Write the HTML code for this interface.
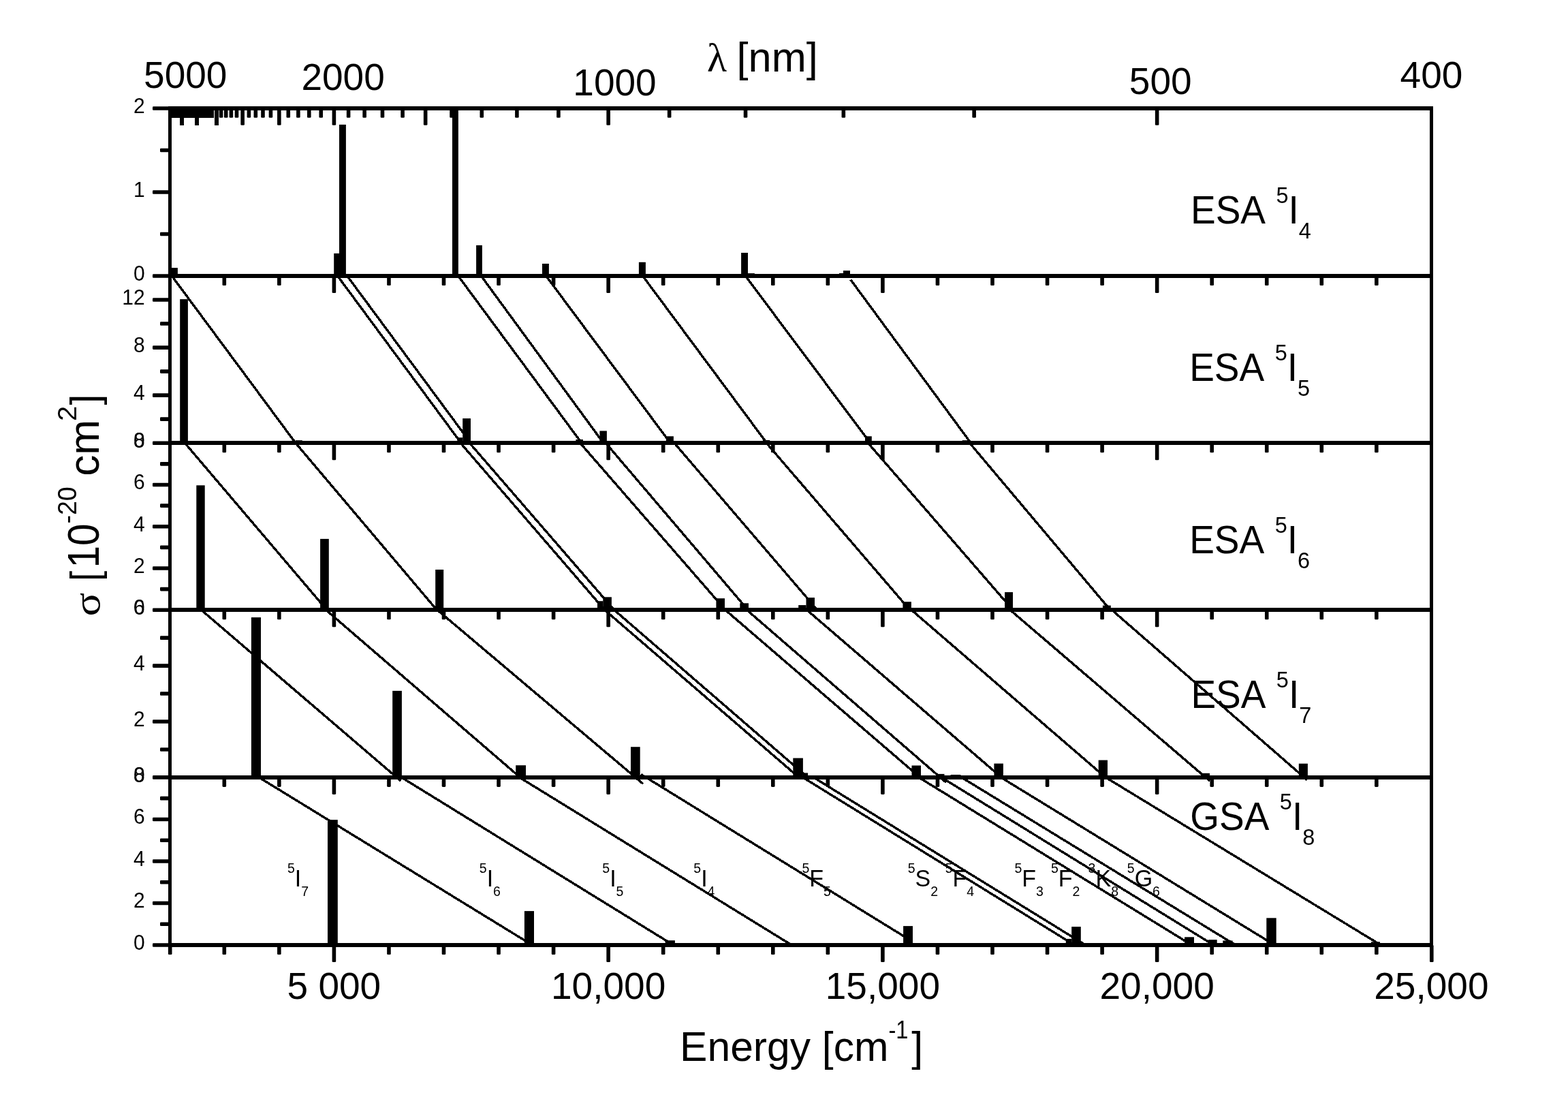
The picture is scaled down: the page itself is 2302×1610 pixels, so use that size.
<!DOCTYPE html>
<html lang="en"><head><meta charset="utf-8"><title>Absorption cross sections</title>
<style>html,body{margin:0;padding:0;background:#fff;}svg{display:block;}text{font-family:"Liberation Sans",sans-serif;fill:#000;}.sym{font-family:"Liberation Serif","DejaVu Serif",serif;}</style></head><body>
<svg width="2302" height="1610" viewBox="0 0 2302 1610">
<rect x="0" y="0" width="2302" height="1610" fill="#fff"/>
<g stroke="#000" stroke-width="3.4" fill="none" stroke-linecap="butt" shape-rendering="crispEdges">
<line x1="252.3" y1="405" x2="434" y2="650.2"/>
<line x1="495.6" y1="405" x2="676.9" y2="650.2"/>
<line x1="509.7" y1="405" x2="691.1" y2="650.2"/>
<line x1="672.7" y1="405" x2="853.9" y2="650.2"/>
<line x1="706.4" y1="405" x2="885.9" y2="650.2"/>
<line x1="801.7" y1="405" x2="984.2" y2="650.2"/>
<line x1="943.6" y1="405" x2="1125.7" y2="650.2"/>
<line x1="1094.4" y1="405" x2="1277.7" y2="650.2"/>
<line x1="1248.8" y1="410.5" x2="1425.3" y2="650.2"/>
<line x1="271.4" y1="650.2" x2="479.8" y2="895.2"/>
<line x1="434" y1="650.2" x2="641.3" y2="895.2"/>
<line x1="676.1" y1="650.2" x2="887.7" y2="895.2"/>
<line x1="689.4" y1="650.2" x2="901.7" y2="895.2"/>
<line x1="851.7" y1="650.2" x2="1065" y2="895.2"/>
<line x1="889.3" y1="650.2" x2="1098" y2="895.2"/>
<line x1="990" y1="650.2" x2="1200" y2="895.2"/>
<line x1="1125.2" y1="650.2" x2="1335.7" y2="895.2"/>
<line x1="1274.4" y1="650.2" x2="1487" y2="895.2"/>
<line x1="1423.6" y1="650.2" x2="1630" y2="895.2"/>
<line x1="295.5" y1="895.2" x2="588.3" y2="1146"/>
<line x1="478.5" y1="895.2" x2="763.6" y2="1140.9"/>
<line x1="642" y1="895.2" x2="944" y2="1150.3"/>
<line x1="887.7" y1="895.2" x2="1172.8" y2="1140.9"/>
<line x1="901.7" y1="895.2" x2="1185.9" y2="1140.9"/>
<line x1="1064.8" y1="895.2" x2="1350.6" y2="1140.9"/>
<line x1="1096.4" y1="895.2" x2="1389.2" y2="1148.5"/>
<line x1="1184.6" y1="895.2" x2="1470.1" y2="1140.9"/>
<line x1="1338.1" y1="895.2" x2="1623" y2="1140.9"/>
<line x1="1483" y1="895.2" x2="1776" y2="1146.1"/>
<line x1="1632.3" y1="895.2" x2="1919" y2="1144.7"/>
<line x1="380.2" y1="1140.9" x2="781.4" y2="1387"/>
<line x1="589.4" y1="1140.9" x2="988.6" y2="1387"/>
<line x1="762.6" y1="1140.9" x2="1165" y2="1388.7"/>
<line x1="941" y1="1136.4" x2="1336" y2="1379.6"/>
<line x1="1178.6" y1="1140.9" x2="1577.5" y2="1387"/>
<line x1="1194.3" y1="1140.9" x2="1597" y2="1389"/>
<line x1="1348.8" y1="1140.9" x2="1749.7" y2="1387"/>
<line x1="1382.1" y1="1140.9" x2="1781.8" y2="1387"/>
<line x1="1411.6" y1="1140.9" x2="1814" y2="1387"/>
<line x1="1469.4" y1="1140.9" x2="1871.3" y2="1387"/>
<line x1="1623.2" y1="1140.9" x2="2027.2" y2="1387"/>
</g>
<g fill="#000">
<rect x="251.1" y="393.1" width="9.8" height="11.9"/>
<rect x="490.2" y="371.9" width="8.8" height="33.1"/>
<rect x="498" y="182.9" width="9.9" height="222.1"/>
<rect x="664" y="159" width="8.9" height="246"/>
<rect x="699.1" y="360" width="8.8" height="45"/>
<rect x="796" y="387" width="9.9" height="18"/>
<rect x="937.9" y="384.8" width="10" height="20.2"/>
<rect x="1088.1" y="371" width="9.9" height="34"/>
<rect x="1098" y="401.1" width="9.9" height="3.9"/>
<rect x="1232" y="401" width="6" height="4"/>
<rect x="1238" y="397.2" width="10" height="7.8"/>
<rect x="264.2" y="439.1" width="11.7" height="211.1"/>
<rect x="433.6" y="646.2" width="10.2" height="4"/>
<rect x="671.4" y="642.2" width="7.8" height="8"/>
<rect x="679.2" y="614.1" width="11.8" height="36.1"/>
<rect x="845.4" y="645" width="10.6" height="5.2"/>
<rect x="880.4" y="632.4" width="10.5" height="17.8"/>
<rect x="977.9" y="640.3" width="11" height="9.9"/>
<rect x="1119.8" y="646" width="10.4" height="4.2"/>
<rect x="1270" y="640.3" width="9.8" height="9.9"/>
<rect x="1412.7" y="646.2" width="10.9" height="4"/>
<rect x="288.3" y="712.3" width="12.4" height="182.9"/>
<rect x="470.1" y="790.9" width="12.7" height="104.3"/>
<rect x="639.2" y="836" width="12" height="59.2"/>
<rect x="877" y="882.2" width="8.5" height="13"/>
<rect x="885.3" y="876.3" width="12.6" height="18.9"/>
<rect x="1051.4" y="878.2" width="12.6" height="17"/>
<rect x="1086.3" y="885.3" width="12.7" height="9.9"/>
<rect x="1172.2" y="888.1" width="11.3" height="7.1"/>
<rect x="1183.5" y="877.1" width="12.5" height="18.1"/>
<rect x="1196" y="891.1" width="2" height="4.1"/>
<rect x="1325.4" y="883.2" width="12.5" height="12"/>
<rect x="1475.1" y="869.1" width="11.9" height="26.1"/>
<rect x="1618.9" y="888.6" width="11.9" height="6.6"/>
<rect x="368.9" y="906.1" width="14.1" height="234.8"/>
<rect x="576.2" y="1013.9" width="13.7" height="127"/>
<rect x="757.2" y="1123.2" width="14.8" height="17.7"/>
<rect x="926" y="1096.2" width="13.7" height="44.7"/>
<rect x="1164.3" y="1112.6" width="14.6" height="28.3"/>
<rect x="1178.9" y="1134.4" width="7.2" height="6.5"/>
<rect x="1338.5" y="1123.5" width="13.5" height="17.4"/>
<rect x="1374.5" y="1135.9" width="12" height="5"/>
<rect x="1395.6" y="1137" width="14.8" height="3.9"/>
<rect x="1459.4" y="1120.6" width="13.5" height="20.3"/>
<rect x="1612.7" y="1115.6" width="13.3" height="25.3"/>
<rect x="1763.3" y="1134.8" width="12.7" height="6.1"/>
<rect x="1906.8" y="1120.7" width="13.1" height="20.2"/>
<rect x="481" y="1203.2" width="14.8" height="183.8"/>
<rect x="769.9" y="1337.1" width="14.1" height="49.9"/>
<rect x="976.7" y="1380.2" width="14.2" height="6.8"/>
<rect x="1326.1" y="1359.1" width="13.9" height="27.9"/>
<rect x="1564.8" y="1377.9" width="8.4" height="9.1"/>
<rect x="1573.2" y="1360.1" width="13.6" height="26.9"/>
<rect x="1739.1" y="1375.3" width="13.9" height="11.7"/>
<rect x="1773.8" y="1379.2" width="12.9" height="7.8"/>
<rect x="1795.3" y="1380.5" width="14.3" height="6.5"/>
<rect x="1859.3" y="1347.3" width="14.4" height="39.7"/>
<rect x="2013" y="1382.3" width="13" height="4.7"/>
</g>
<g fill="#000">
<rect x="326.5" y="405" width="5.6" height="14" rx="1.3"/>
<rect x="407.05" y="405" width="5.6" height="14" rx="1.3"/>
<rect x="487.6" y="405" width="5.6" height="25" rx="1.3"/>
<rect x="568.15" y="405" width="5.6" height="14" rx="1.3"/>
<rect x="648.7" y="405" width="5.6" height="14" rx="1.3"/>
<rect x="729.25" y="405" width="5.6" height="14" rx="1.3"/>
<rect x="809.8" y="405" width="5.6" height="14" rx="1.3"/>
<rect x="890.35" y="405" width="5.6" height="25" rx="1.3"/>
<rect x="970.9" y="405" width="5.6" height="14" rx="1.3"/>
<rect x="1051.45" y="405" width="5.6" height="14" rx="1.3"/>
<rect x="1132" y="405" width="5.6" height="14" rx="1.3"/>
<rect x="1212.55" y="405" width="5.6" height="14" rx="1.3"/>
<rect x="1293.1" y="405" width="5.6" height="25" rx="1.3"/>
<rect x="1373.65" y="405" width="5.6" height="14" rx="1.3"/>
<rect x="1454.2" y="405" width="5.6" height="14" rx="1.3"/>
<rect x="1534.75" y="405" width="5.6" height="14" rx="1.3"/>
<rect x="1615.3" y="405" width="5.6" height="14" rx="1.3"/>
<rect x="1695.85" y="405" width="5.6" height="25" rx="1.3"/>
<rect x="1776.4" y="405" width="5.6" height="14" rx="1.3"/>
<rect x="1856.95" y="405" width="5.6" height="14" rx="1.3"/>
<rect x="1937.5" y="405" width="5.6" height="14" rx="1.3"/>
<rect x="2018.05" y="405" width="5.6" height="14" rx="1.3"/>
<rect x="326.5" y="650.2" width="5.6" height="14" rx="1.3"/>
<rect x="407.05" y="650.2" width="5.6" height="14" rx="1.3"/>
<rect x="487.6" y="650.2" width="5.6" height="25" rx="1.3"/>
<rect x="568.15" y="650.2" width="5.6" height="14" rx="1.3"/>
<rect x="648.7" y="650.2" width="5.6" height="14" rx="1.3"/>
<rect x="729.25" y="650.2" width="5.6" height="14" rx="1.3"/>
<rect x="809.8" y="650.2" width="5.6" height="14" rx="1.3"/>
<rect x="890.35" y="650.2" width="5.6" height="25" rx="1.3"/>
<rect x="970.9" y="650.2" width="5.6" height="14" rx="1.3"/>
<rect x="1051.45" y="650.2" width="5.6" height="14" rx="1.3"/>
<rect x="1132" y="650.2" width="5.6" height="14" rx="1.3"/>
<rect x="1212.55" y="650.2" width="5.6" height="14" rx="1.3"/>
<rect x="1293.1" y="650.2" width="5.6" height="25" rx="1.3"/>
<rect x="1373.65" y="650.2" width="5.6" height="14" rx="1.3"/>
<rect x="1454.2" y="650.2" width="5.6" height="14" rx="1.3"/>
<rect x="1534.75" y="650.2" width="5.6" height="14" rx="1.3"/>
<rect x="1615.3" y="650.2" width="5.6" height="14" rx="1.3"/>
<rect x="1695.85" y="650.2" width="5.6" height="25" rx="1.3"/>
<rect x="1776.4" y="650.2" width="5.6" height="14" rx="1.3"/>
<rect x="1856.95" y="650.2" width="5.6" height="14" rx="1.3"/>
<rect x="1937.5" y="650.2" width="5.6" height="14" rx="1.3"/>
<rect x="2018.05" y="650.2" width="5.6" height="14" rx="1.3"/>
<rect x="326.5" y="895.2" width="5.6" height="14" rx="1.3"/>
<rect x="407.05" y="895.2" width="5.6" height="14" rx="1.3"/>
<rect x="487.6" y="895.2" width="5.6" height="25" rx="1.3"/>
<rect x="568.15" y="895.2" width="5.6" height="14" rx="1.3"/>
<rect x="648.7" y="895.2" width="5.6" height="14" rx="1.3"/>
<rect x="729.25" y="895.2" width="5.6" height="14" rx="1.3"/>
<rect x="809.8" y="895.2" width="5.6" height="14" rx="1.3"/>
<rect x="890.35" y="895.2" width="5.6" height="25" rx="1.3"/>
<rect x="970.9" y="895.2" width="5.6" height="14" rx="1.3"/>
<rect x="1051.45" y="895.2" width="5.6" height="14" rx="1.3"/>
<rect x="1132" y="895.2" width="5.6" height="14" rx="1.3"/>
<rect x="1212.55" y="895.2" width="5.6" height="14" rx="1.3"/>
<rect x="1293.1" y="895.2" width="5.6" height="25" rx="1.3"/>
<rect x="1373.65" y="895.2" width="5.6" height="14" rx="1.3"/>
<rect x="1454.2" y="895.2" width="5.6" height="14" rx="1.3"/>
<rect x="1534.75" y="895.2" width="5.6" height="14" rx="1.3"/>
<rect x="1615.3" y="895.2" width="5.6" height="14" rx="1.3"/>
<rect x="1695.85" y="895.2" width="5.6" height="25" rx="1.3"/>
<rect x="1776.4" y="895.2" width="5.6" height="14" rx="1.3"/>
<rect x="1856.95" y="895.2" width="5.6" height="14" rx="1.3"/>
<rect x="1937.5" y="895.2" width="5.6" height="14" rx="1.3"/>
<rect x="2018.05" y="895.2" width="5.6" height="14" rx="1.3"/>
<rect x="326.5" y="1140.9" width="5.6" height="14" rx="1.3"/>
<rect x="407.05" y="1140.9" width="5.6" height="14" rx="1.3"/>
<rect x="487.6" y="1140.9" width="5.6" height="25" rx="1.3"/>
<rect x="568.15" y="1140.9" width="5.6" height="14" rx="1.3"/>
<rect x="648.7" y="1140.9" width="5.6" height="14" rx="1.3"/>
<rect x="729.25" y="1140.9" width="5.6" height="14" rx="1.3"/>
<rect x="809.8" y="1140.9" width="5.6" height="14" rx="1.3"/>
<rect x="890.35" y="1140.9" width="5.6" height="25" rx="1.3"/>
<rect x="970.9" y="1140.9" width="5.6" height="14" rx="1.3"/>
<rect x="1051.45" y="1140.9" width="5.6" height="14" rx="1.3"/>
<rect x="1132" y="1140.9" width="5.6" height="14" rx="1.3"/>
<rect x="1212.55" y="1140.9" width="5.6" height="14" rx="1.3"/>
<rect x="1293.1" y="1140.9" width="5.6" height="25" rx="1.3"/>
<rect x="1373.65" y="1140.9" width="5.6" height="14" rx="1.3"/>
<rect x="1454.2" y="1140.9" width="5.6" height="14" rx="1.3"/>
<rect x="1534.75" y="1140.9" width="5.6" height="14" rx="1.3"/>
<rect x="1615.3" y="1140.9" width="5.6" height="14" rx="1.3"/>
<rect x="1695.85" y="1140.9" width="5.6" height="25" rx="1.3"/>
<rect x="1776.4" y="1140.9" width="5.6" height="14" rx="1.3"/>
<rect x="1856.95" y="1140.9" width="5.6" height="14" rx="1.3"/>
<rect x="1937.5" y="1140.9" width="5.6" height="14" rx="1.3"/>
<rect x="2018.05" y="1140.9" width="5.6" height="14" rx="1.3"/>
<rect x="246.9" y="1387" width="5.6" height="14" rx="1.3"/>
<rect x="326.5" y="1387" width="5.6" height="14" rx="1.3"/>
<rect x="407.05" y="1387" width="5.6" height="14" rx="1.3"/>
<rect x="487.6" y="1387" width="5.6" height="25" rx="1.3"/>
<rect x="568.15" y="1387" width="5.6" height="14" rx="1.3"/>
<rect x="648.7" y="1387" width="5.6" height="14" rx="1.3"/>
<rect x="729.25" y="1387" width="5.6" height="14" rx="1.3"/>
<rect x="809.8" y="1387" width="5.6" height="14" rx="1.3"/>
<rect x="890.35" y="1387" width="5.6" height="25" rx="1.3"/>
<rect x="970.9" y="1387" width="5.6" height="14" rx="1.3"/>
<rect x="1051.45" y="1387" width="5.6" height="14" rx="1.3"/>
<rect x="1132" y="1387" width="5.6" height="14" rx="1.3"/>
<rect x="1212.55" y="1387" width="5.6" height="14" rx="1.3"/>
<rect x="1293.1" y="1387" width="5.6" height="25" rx="1.3"/>
<rect x="1373.65" y="1387" width="5.6" height="14" rx="1.3"/>
<rect x="1454.2" y="1387" width="5.6" height="14" rx="1.3"/>
<rect x="1534.75" y="1387" width="5.6" height="14" rx="1.3"/>
<rect x="1615.3" y="1387" width="5.6" height="14" rx="1.3"/>
<rect x="1695.85" y="1387" width="5.6" height="25" rx="1.3"/>
<rect x="1776.4" y="1387" width="5.6" height="14" rx="1.3"/>
<rect x="1856.95" y="1387" width="5.6" height="14" rx="1.3"/>
<rect x="1937.5" y="1387" width="5.6" height="14" rx="1.3"/>
<rect x="2018.05" y="1387" width="5.6" height="14" rx="1.3"/>
<rect x="2099" y="1387" width="5.6" height="25" rx="1.3"/>
<rect x="249" y="159" width="6" height="13.7" shape-rendering="crispEdges"/>
<rect x="252" y="159" width="6" height="13.7" shape-rendering="crispEdges"/>
<rect x="256" y="159" width="6" height="13.7" shape-rendering="crispEdges"/>
<rect x="260" y="159" width="6" height="13.7" shape-rendering="crispEdges"/>
<rect x="264" y="159" width="6" height="24.8" shape-rendering="crispEdges"/>
<rect x="268" y="159" width="6" height="13.7" shape-rendering="crispEdges"/>
<rect x="272" y="159" width="6" height="13.7" shape-rendering="crispEdges"/>
<rect x="276" y="159" width="6" height="13.7" shape-rendering="crispEdges"/>
<rect x="281" y="159" width="6" height="13.7" shape-rendering="crispEdges"/>
<rect x="286" y="159" width="6" height="24.8" shape-rendering="crispEdges"/>
<rect x="291" y="159" width="6" height="13.7" shape-rendering="crispEdges"/>
<rect x="297" y="159" width="6" height="13.7" shape-rendering="crispEdges"/>
<rect x="302" y="159" width="6" height="13.7" shape-rendering="crispEdges"/>
<rect x="308" y="159" width="6" height="13.7" shape-rendering="crispEdges"/>
<rect x="315" y="159" width="6" height="24.8" shape-rendering="crispEdges"/>
<rect x="321.76" y="159" width="5.6" height="13.7" rx="1.3"/>
<rect x="328.94" y="159" width="5.6" height="13.7" rx="1.3"/>
<rect x="336.57" y="159" width="5.6" height="13.7" rx="1.3"/>
<rect x="344.69" y="159" width="5.6" height="13.7" rx="1.3"/>
<rect x="353.35" y="159" width="5.6" height="24.8" rx="1.3"/>
<rect x="362.61" y="159" width="5.6" height="13.7" rx="1.3"/>
<rect x="372.53" y="159" width="5.6" height="13.7" rx="1.3"/>
<rect x="383.18" y="159" width="5.6" height="13.7" rx="1.3"/>
<rect x="394.66" y="159" width="5.6" height="13.7" rx="1.3"/>
<rect x="407.05" y="159" width="5.6" height="24.8" rx="1.3"/>
<rect x="420.47" y="159" width="5.6" height="13.7" rx="1.3"/>
<rect x="435.07" y="159" width="5.6" height="13.7" rx="1.3"/>
<rect x="450.99" y="159" width="5.6" height="13.7" rx="1.3"/>
<rect x="468.42" y="159" width="5.6" height="13.7" rx="1.3"/>
<rect x="487.6" y="159" width="5.6" height="24.8" rx="1.3"/>
<rect x="508.8" y="159" width="5.6" height="13.7" rx="1.3"/>
<rect x="532.35" y="159" width="5.6" height="13.7" rx="1.3"/>
<rect x="558.67" y="159" width="5.6" height="13.7" rx="1.3"/>
<rect x="588.29" y="159" width="5.6" height="13.7" rx="1.3"/>
<rect x="621.85" y="159" width="5.6" height="24.8" rx="1.3"/>
<rect x="660.21" y="159" width="5.6" height="13.7" rx="1.3"/>
<rect x="704.47" y="159" width="5.6" height="13.7" rx="1.3"/>
<rect x="756.1" y="159" width="5.6" height="13.7" rx="1.3"/>
<rect x="817.12" y="159" width="5.6" height="13.7" rx="1.3"/>
<rect x="890.35" y="159" width="5.6" height="24.8" rx="1.3"/>
<rect x="979.85" y="159" width="5.6" height="13.7" rx="1.3"/>
<rect x="1091.73" y="159" width="5.6" height="13.7" rx="1.3"/>
<rect x="1235.56" y="159" width="5.6" height="13.7" rx="1.3"/>
<rect x="1427.35" y="159" width="5.6" height="13.7" rx="1.3"/>
<rect x="1695.85" y="159" width="5.6" height="24.8" rx="1.3"/>
<rect x="224" y="402.2" width="25.7" height="5.6" rx="1.3"/>
<rect x="224" y="279.2" width="25.7" height="5.6" rx="1.3"/>
<rect x="235" y="340.7" width="14.7" height="5.6" rx="1.3"/>
<rect x="235" y="217.7" width="14.7" height="5.6" rx="1.3"/>
<rect x="224" y="647.4" width="25.7" height="5.6" rx="1.3"/>
<rect x="224" y="577.34" width="25.7" height="5.6" rx="1.3"/>
<rect x="224" y="507.29" width="25.7" height="5.6" rx="1.3"/>
<rect x="224" y="437.23" width="25.7" height="5.6" rx="1.3"/>
<rect x="235" y="612.37" width="14.7" height="5.6" rx="1.3"/>
<rect x="235" y="542.31" width="14.7" height="5.6" rx="1.3"/>
<rect x="235" y="472.26" width="14.7" height="5.6" rx="1.3"/>
<rect x="224" y="892.4" width="25.7" height="5.6" rx="1.3"/>
<rect x="224" y="831.15" width="25.7" height="5.6" rx="1.3"/>
<rect x="224" y="769.9" width="25.7" height="5.6" rx="1.3"/>
<rect x="224" y="708.65" width="25.7" height="5.6" rx="1.3"/>
<rect x="235" y="861.78" width="14.7" height="5.6" rx="1.3"/>
<rect x="235" y="800.53" width="14.7" height="5.6" rx="1.3"/>
<rect x="235" y="739.28" width="14.7" height="5.6" rx="1.3"/>
<rect x="235" y="678.03" width="14.7" height="5.6" rx="1.3"/>
<rect x="224" y="1138.1" width="25.7" height="5.6" rx="1.3"/>
<rect x="224" y="1056.2" width="25.7" height="5.6" rx="1.3"/>
<rect x="224" y="974.3" width="25.7" height="5.6" rx="1.3"/>
<rect x="235" y="1097.15" width="14.7" height="5.6" rx="1.3"/>
<rect x="235" y="1015.25" width="14.7" height="5.6" rx="1.3"/>
<rect x="235" y="933.35" width="14.7" height="5.6" rx="1.3"/>
<rect x="224" y="1384.2" width="25.7" height="5.6" rx="1.3"/>
<rect x="224" y="1322.67" width="25.7" height="5.6" rx="1.3"/>
<rect x="224" y="1261.15" width="25.7" height="5.6" rx="1.3"/>
<rect x="224" y="1199.63" width="25.7" height="5.6" rx="1.3"/>
<rect x="235" y="1353.44" width="14.7" height="5.6" rx="1.3"/>
<rect x="235" y="1291.91" width="14.7" height="5.6" rx="1.3"/>
<rect x="235" y="1230.39" width="14.7" height="5.6" rx="1.3"/>
<rect x="235" y="1168.86" width="14.7" height="5.6" rx="1.3"/>
<rect x="224" y="156.2" width="25.7" height="5.6" rx="1.3"/>
</g>
<g stroke="#000" stroke-width="5.6" fill="none" stroke-linecap="butt" shape-rendering="crispEdges">
<line x1="247.1" y1="159" x2="2104.1" y2="159"/>
<line x1="247.1" y1="405" x2="2104.1" y2="405"/>
<line x1="247.1" y1="650.2" x2="2104.1" y2="650.2"/>
<line x1="247.1" y1="895.2" x2="2104.1" y2="895.2"/>
<line x1="247.1" y1="1140.9" x2="2104.1" y2="1140.9"/>
<line x1="247.1" y1="1387" x2="2104.1" y2="1387"/>
<line x1="249.7" y1="159" x2="249.7" y2="1387" stroke-width="5.2"/>
<line x1="2101.8" y1="159" x2="2101.8" y2="1387" stroke-width="5.2"/>
</g>
<g font-size="32.3" text-anchor="end">
<text transform="translate(212.6,412) scale(0.93,1)">0</text>
<text transform="translate(212.6,289) scale(0.93,1)">1</text>
<text transform="translate(212.6,166) scale(0.93,1)">2</text>
<text transform="translate(212.6,657.2) scale(0.93,1)">0</text>
<text transform="translate(212.6,587.14) scale(0.93,1)">4</text>
<text transform="translate(212.6,517.09) scale(0.93,1)">8</text>
<text transform="translate(212.6,447.03) scale(0.93,1)">12</text>
<text transform="translate(212.6,902.2) scale(0.93,1)">0</text>
<text transform="translate(212.6,840.95) scale(0.93,1)">2</text>
<text transform="translate(212.6,779.7) scale(0.93,1)">4</text>
<text transform="translate(212.6,718.45) scale(0.93,1)">6</text>
<text transform="translate(212.6,657.2) scale(0.93,1)">8</text>
<text transform="translate(212.6,1147.9) scale(0.93,1)">0</text>
<text transform="translate(212.6,1066) scale(0.93,1)">2</text>
<text transform="translate(212.6,984.1) scale(0.93,1)">4</text>
<text transform="translate(212.6,902.2) scale(0.93,1)">6</text>
<text transform="translate(212.6,1394) scale(0.93,1)">0</text>
<text transform="translate(212.6,1332.47) scale(0.93,1)">2</text>
<text transform="translate(212.6,1270.95) scale(0.93,1)">4</text>
<text transform="translate(212.6,1209.43) scale(0.93,1)">6</text>
<text transform="translate(212.6,1147.9) scale(0.93,1)">8</text>
</g>
<g font-size="55" text-anchor="middle">
<text x="490.4" y="1466.4">5 000</text>
<text x="893.15" y="1466.4">10,000</text>
<text x="1295.9" y="1466.4">15,000</text>
<text x="1698.65" y="1466.4">20,000</text>
<text x="2101.4" y="1466.4">25,000</text>
</g>
<g font-size="55" text-anchor="middle">
<text x="272.3" y="128.7">5000</text>
<text x="503.6" y="131.9">2000</text>
<text x="902.5" y="140.1">1000</text>
<text x="1703.7" y="138">500</text>
<text x="2101.5" y="129.3">400</text>
</g>
<text x="1038" y="104.7" font-size="61.3"><tspan class="sym" font-size="60">λ</tspan><tspan x="1081.6">[nm]</tspan></text>
<text x="998" y="1556.7" font-size="61" textLength="306.5" lengthAdjust="spacingAndGlyphs">Energy [cm</text>
<text x="1304.5" y="1523.6" font-size="37.5" textLength="29" lengthAdjust="spacingAndGlyphs">-1</text>
<text x="1338.3" y="1556.7" font-size="61">]</text>
<text transform="translate(145.54,904.42) rotate(-90) scale(1.1567,1)" font-size="55.83" class="sym">σ</text>
<text transform="translate(144.64,852.91) rotate(-90) scale(0.9132,1)" font-size="60.05">[</text>
<text transform="translate(145.46,833.56) rotate(-90) scale(0.9125,1)" font-size="64.06">10</text>
<text transform="translate(111.81,768.59) rotate(-90) scale(0.9691,1)" font-size="38.8">-20</text>
<text transform="translate(145.48,698.74) rotate(-90) scale(0.9987,1)" font-size="62.28">cm</text>
<text transform="translate(112.2,617.99) rotate(-90) scale(1.0136,1)" font-size="39.36">2</text>
<text transform="translate(144.64,594.52) rotate(-90) scale(0.9384,1)" font-size="60.05">]</text>
<text transform="translate(1748,328.2) scale(1,1.05)" font-size="55">ESA <tspan font-size="32.5" dx="3.2" dy="-28.3">5</tspan><tspan dy="28.3">I</tspan><tspan font-size="32.5" dy="20.9">4</tspan></text>
<text transform="translate(1746.2,559) scale(1,1.05)" font-size="55">ESA <tspan font-size="32.5" dx="3.2" dy="-28.3">5</tspan><tspan dy="28.3">I</tspan><tspan font-size="32.5" dy="20.9">5</tspan></text>
<text transform="translate(1746.2,811.9) scale(1,1.05)" font-size="55">ESA <tspan font-size="32.5" dx="3.2" dy="-28.3">5</tspan><tspan dy="28.3">I</tspan><tspan font-size="32.5" dy="20.9">6</tspan></text>
<text transform="translate(1748.4,1039.1) scale(1,1.05)" font-size="55">ESA <tspan font-size="32.5" dx="3.2" dy="-28.3">5</tspan><tspan dy="28.3">I</tspan><tspan font-size="32.5" dy="20.9">7</tspan></text>
<text transform="translate(1747.3,1217.7) scale(1,1.05)" font-size="55">GSA <tspan font-size="32.5" dx="3.2" dy="-28.3">5</tspan><tspan dy="28.3">I</tspan><tspan font-size="32.5" dy="20.9">8</tspan></text>
<text transform="translate(421.9,1300.7) scale(1,1.05)" font-size="34"><tspan font-size="19.5" dy="-18.6">5</tspan><tspan dy="18.6">I</tspan><tspan font-size="19.5" dy="13.4">7</tspan></text>
<text transform="translate(703.8,1300.7) scale(1,1.05)" font-size="34"><tspan font-size="19.5" dy="-18.6">5</tspan><tspan dy="18.6">I</tspan><tspan font-size="19.5" dy="13.4">6</tspan></text>
<text transform="translate(884.3,1300.7) scale(1,1.05)" font-size="34"><tspan font-size="19.5" dy="-18.6">5</tspan><tspan dy="18.6">I</tspan><tspan font-size="19.5" dy="13.4">5</tspan></text>
<text transform="translate(1018.3,1300.7) scale(1,1.05)" font-size="34"><tspan font-size="19.5" dy="-18.6">5</tspan><tspan dy="18.6">I</tspan><tspan font-size="19.5" dy="13.4">4</tspan></text>
<text transform="translate(1177.4,1300.7) scale(1,1.05)" font-size="34"><tspan font-size="19.5" dy="-18.6">5</tspan><tspan dy="18.6">F</tspan><tspan font-size="19.5" dy="13.4">5</tspan></text>
<text transform="translate(1332.7,1300.7) scale(1,1.05)" font-size="34"><tspan font-size="19.5" dy="-18.6">5</tspan><tspan dy="18.6">S</tspan><tspan font-size="19.5" dy="13.4">2</tspan></text>
<text transform="translate(1387.7,1300.7) scale(1,1.05)" font-size="34"><tspan font-size="19.5" dy="-18.6">5</tspan><tspan dy="18.6">F</tspan><tspan font-size="19.5" dy="13.4">4</tspan></text>
<text transform="translate(1489.4,1300.7) scale(1,1.05)" font-size="34"><tspan font-size="19.5" dy="-18.6">5</tspan><tspan dy="18.6">F</tspan><tspan font-size="19.5" dy="13.4">3</tspan></text>
<text transform="translate(1543,1300.7) scale(1,1.05)" font-size="34"><tspan font-size="19.5" dy="-18.6">5</tspan><tspan dy="18.6">F</tspan><tspan font-size="19.5" dy="13.4">2</tspan></text>
<text transform="translate(1597.6,1300.7) scale(1,1.05)" font-size="34"><tspan font-size="19.5" dy="-18.6">3</tspan><tspan dy="18.6">K</tspan><tspan font-size="19.5" dy="13.4">8</tspan></text>
<text transform="translate(1654.8,1300.7) scale(1,1.05)" font-size="34"><tspan font-size="19.5" dy="-18.6">5</tspan><tspan dy="18.6">G</tspan><tspan font-size="19.5" dy="13.4">6</tspan></text>
</svg>
</body></html>
